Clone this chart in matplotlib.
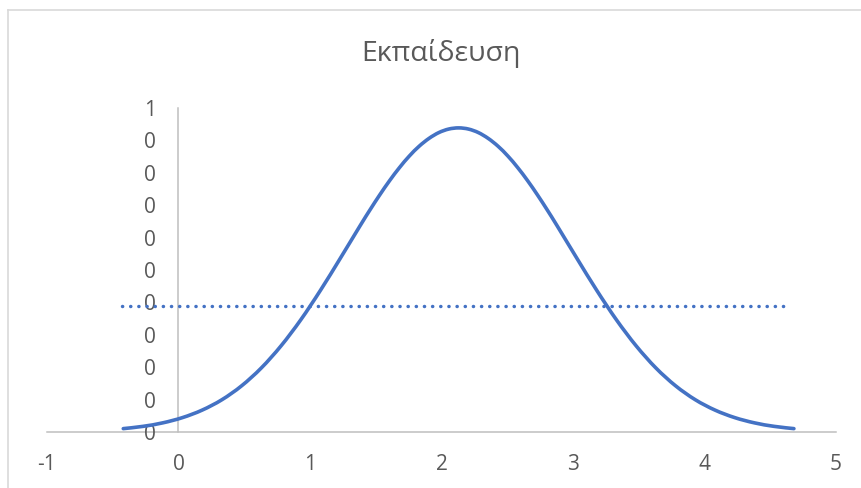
import matplotlib
matplotlib.use("Agg")
import numpy as np
import matplotlib.pyplot as plt
from matplotlib.lines import Line2D
from matplotlib.path import Path
from matplotlib.patches import PathPatch

plt.rcParams['font.family'] = ['Open Sans', 'DejaVu Sans']

# --- data ---
title = "Εκπαίδευση"
curve_x = [-0.42, -0.27, -0.12, 0.03, 0.18, 0.33, 0.48, 0.63, 0.78, 0.93, 1.08, 1.23, 1.38,
           1.455, 1.53, 1.605, 1.68, 1.755, 1.83, 1.905, 1.98, 2.055, 2.13, 2.205, 2.28, 2.355,
           2.43, 2.505, 2.58, 2.655, 2.73, 2.805, 2.88, 3.03, 3.18, 3.33, 3.48, 3.63, 3.78,
           3.93, 4.08, 4.23, 4.38, 4.53, 4.68]
curve_y = [0.0052, 0.0087, 0.0141, 0.0222, 0.0338, 0.0498, 0.0713, 0.0989, 0.1330, 0.1732,
           0.2188, 0.2679, 0.3180, 0.3424, 0.3658, 0.3878, 0.4079, 0.4258, 0.4410, 0.4531,
           0.4621, 0.4675, 0.4693, 0.4675, 0.4621, 0.4531, 0.4410, 0.4258, 0.4079, 0.3878,
           0.3658, 0.3424, 0.3180, 0.2679, 0.2188, 0.1732, 0.1330, 0.0989, 0.0713, 0.0498,
           0.0338, 0.0222, 0.0141, 0.0087, 0.0052]
level_x = [-0.43, 4.63]
level_y = [0.195, 0.195]

x_ticks = [-1, 0, 1, 2, 3, 4, 5]
x_labels = ["-1", "0", "1", "2", "3", "4", "5"]
y_ticks = [0.0, 0.05, 0.1, 0.15, 0.2, 0.25, 0.3, 0.35, 0.4, 0.45, 0.5]
y_labels = ["0", "0", "0", "0", "0", "0", "0", "0", "0", "0", "1"]

blue = "#4472C4"
grey_txt = "#595959"
grey_ax = "#BFBFBF"


def smooth_path(xs, ys):
    # Excel-style smoothed line: Catmull-Rom segments as cubic Beziers
    p = np.column_stack([xs, ys])
    p = np.vstack([p[0], p, p[-1]])
    verts = [p[1]]
    codes = [Path.MOVETO]
    for i in range(1, len(p) - 2):
        c1 = p[i] + (p[i + 1] - p[i - 1]) / 6
        c2 = p[i + 1] - (p[i + 2] - p[i]) / 6
        verts += [c1, c2, p[i + 1]]
        codes += [Path.CURVE4] * 3
    return Path(verts, codes)


W, H = 862, 488
fig = plt.figure(figsize=(W / 100, H / 100), dpi=100)
ax = fig.add_axes([47 / W, 56 / H, 789 / W, 324 / H])

ax.add_patch(PathPatch(smooth_path(curve_x, curve_y), facecolor='none', edgecolor=blue,
                       lw=2.6, capstyle='round', zorder=3))
ax.plot(level_x, level_y, color=blue, lw=2.5, linestyle=(0, (0.05, 2.3)),
        dash_capstyle='round', zorder=3)

ax.set_xlim(-1, 5)
ax.set_ylim(0, 0.5)

# axes cross at zero like Excel
for s in ['top', 'right']:
    ax.spines[s].set_visible(False)
ax.spines['left'].set_position(('data', 0))
ax.spines['bottom'].set_position(('data', 0))
for s in ['left', 'bottom']:
    ax.spines[s].set_color(grey_ax)
    ax.spines[s].set_linewidth(1.1)
    ax.spines[s].set_zorder(1)

ax.set_xticks(x_ticks)
ax.set_xticklabels(x_labels)
ax.set_yticks(y_ticks)
ax.set_yticklabels(y_labels)
ax.tick_params(axis='x', length=0, pad=16, labelsize=15, labelcolor=grey_txt)
ax.tick_params(axis='y', length=0, pad=16, labelsize=15, labelcolor=grey_txt)

fig.text(441.5 / W, 1 - 61 / H, title, ha='center', va='baseline',
         fontsize=20.5, color=grey_txt)

# chart frame (only top and left visible)
fig.add_artist(Line2D([8 / W, 1], [1 - 10 / H, 1 - 10 / H], color="#D9D9D9", lw=1.2,
                      transform=fig.transFigure))
fig.add_artist(Line2D([8 / W, 8 / W], [0, 1 - 10 / H], color="#D9D9D9", lw=1.2,
                      transform=fig.transFigure))

fig.savefig("out.png", dpi=100)
